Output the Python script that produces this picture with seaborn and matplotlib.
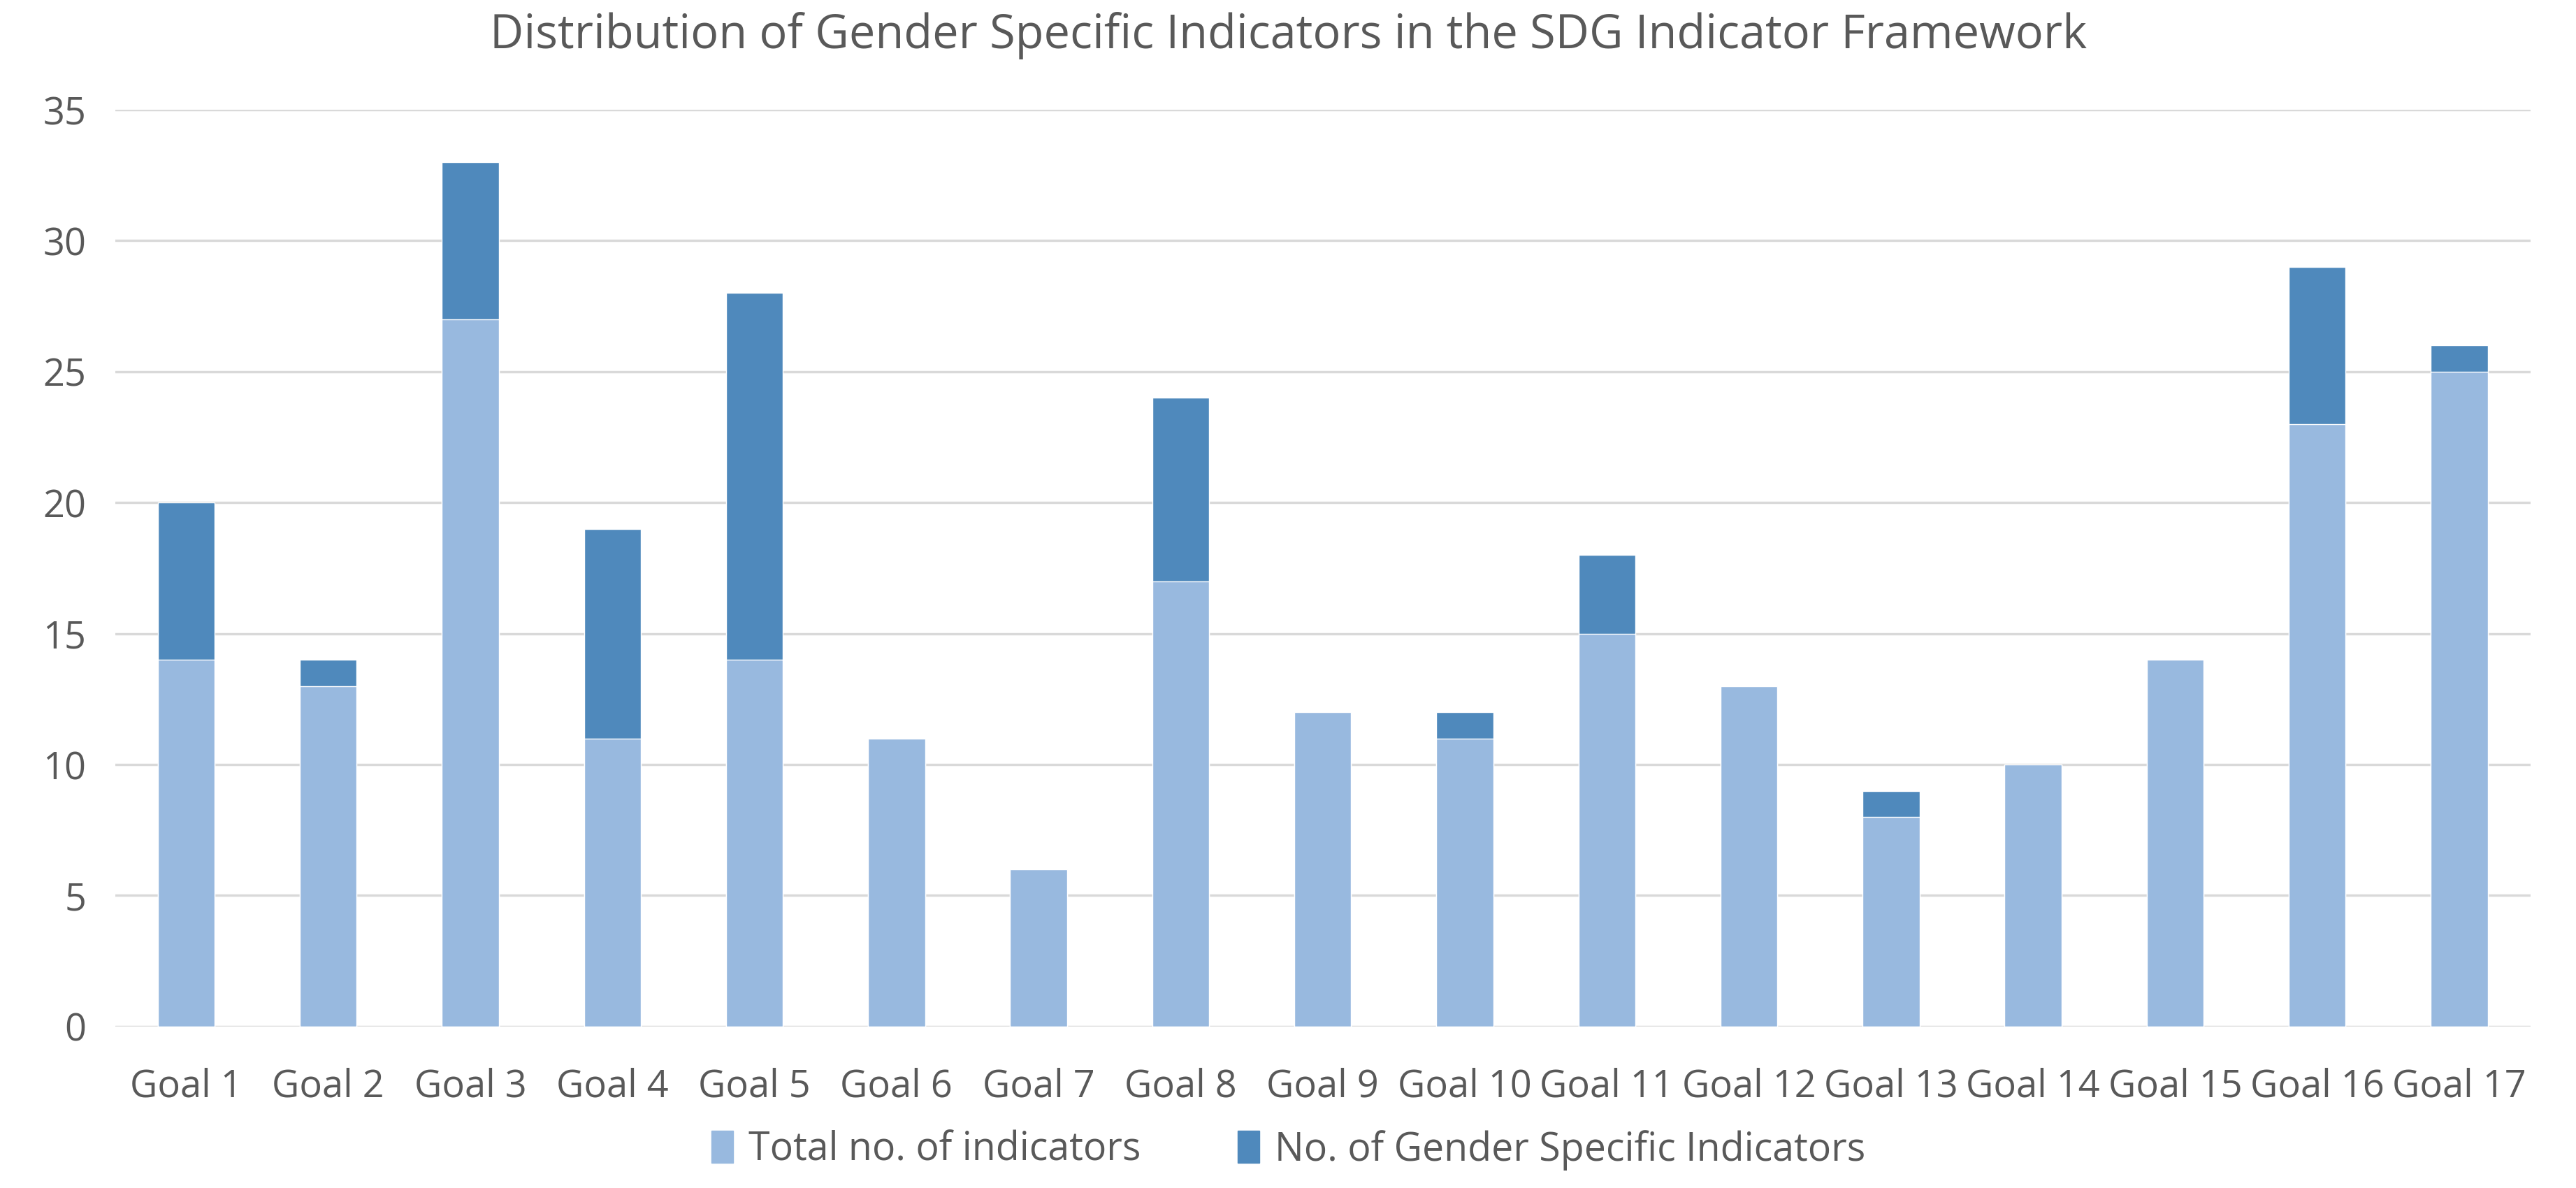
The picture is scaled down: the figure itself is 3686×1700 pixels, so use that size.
import matplotlib
matplotlib.use('Agg')
import matplotlib.pyplot as plt
import matplotlib.patches as mpatches
import seaborn as sns
import pandas as pd

goals = ['Goal 1', 'Goal 2', 'Goal 3', 'Goal 4', 'Goal 5', 'Goal 6', 'Goal 7', 'Goal 8', 'Goal 9',
         'Goal 10', 'Goal 11', 'Goal 12', 'Goal 13', 'Goal 14', 'Goal 15', 'Goal 16', 'Goal 17']
total = [14, 13, 27, 11, 14, 11, 6, 17, 12, 11, 15, 13, 8, 10, 14, 23, 25]
gender = [6, 1, 6, 8, 14, 0, 0, 7, 0, 1, 3, 0, 1, 0, 0, 6, 1]

light = '#98B9DF'
dark = '#4F89BC'
txt = '#595959'

df = pd.DataFrame({'goal': goals, 'total': total, 'gender': gender})
df['top'] = df['total'] + df['gender']

sns.set_style('white')
plt.rcParams['font.family'] = ['Open Sans', 'DejaVu Sans']

fig = plt.figure(figsize=(36.87, 17), dpi=100)
ax = fig.add_axes([0.0447, 0.136, 0.9373, 0.7716])

# stacked: draw full height in dark, then the total part in light over it
sns.barplot(data=df, x='goal', y='top', color=dark, saturation=1, width=0.4, ax=ax, zorder=3)
sns.barplot(data=df, x='goal', y='total', color=light, saturation=1, width=0.4, ax=ax, zorder=4)

ax.set_ylim(0, 35)
ax.set_xlim(-0.5, len(goals) - 0.5)
ax.set_yticks(range(0, 36, 5))
ax.yaxis.grid(True, color='#D9D9D9', linewidth=2.5, zorder=0)
ax.set_axisbelow(True)
for s in ax.spines.values():
    s.set_visible(False)
ax.set_xlabel('')
ax.set_ylabel('')
ax.tick_params(axis='both', length=0, labelsize=39, labelcolor=txt)
ax.tick_params(axis='x', pad=42)
ax.tick_params(axis='y', pad=30)

fig.suptitle('Distribution of Gender Specific Indicators in the SDG Indicator Framework',
             fontsize=48, color=txt, y=0.99)

handles = [mpatches.Patch(color=light, label='Total no. of indicators'),
           mpatches.Patch(color=dark, label='No. of Gender Specific Indicators')]
fig.legend(handles=handles, loc='center', bbox_to_anchor=(0.5, 0.032), ncol=2, frameon=False,
           fontsize=40, labelcolor=txt, handlelength=0.55, handleheight=0.9, handletextpad=0.4,
           columnspacing=2.5)

fig.savefig('out.png', dpi=100)
